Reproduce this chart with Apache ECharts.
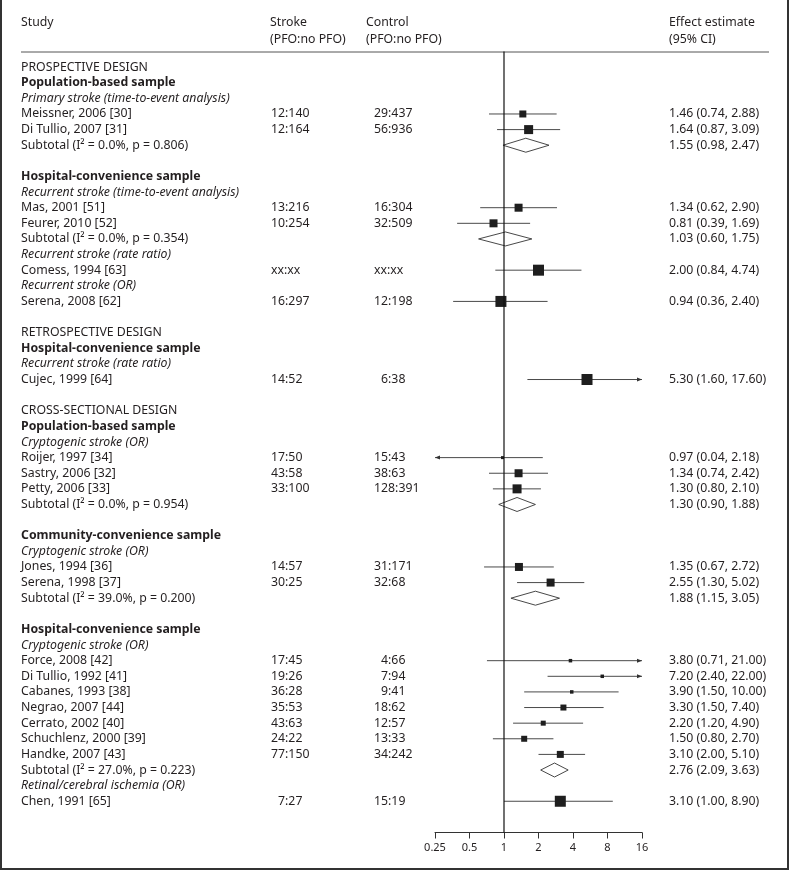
<!DOCTYPE html>
<html>
<head>
<meta charset="utf-8">
<script src="https://cdn.jsdelivr.net/npm/echarts@6/dist/echarts.min.js"></script>
<style>
html, body { margin: 0; padding: 0; background: #fff; }
#chart { width: 789px; height: 870px; }
</style>
</head>
<body>
<div id="chart"></div>
<script>
// rows of the forest plot, top to bottom
const labels = [
  'PROSPECTIVE DESIGN', 'Population-based sample', 'Primary stroke (time-to-event analysis)',
  'Meissner, 2006 [30]', 'Di Tullio, 2007 [31]', 'Subtotal (I² = 0.0%, p = 0.806)', '',
  'Hospital-convenience sample', 'Recurrent stroke (time-to-event analysis)',
  'Mas, 2001 [51]', 'Feurer, 2010 [52]', 'Subtotal (I² = 0.0%, p = 0.354)',
  'Recurrent stroke (rate ratio)', 'Comess, 1994 [63]', 'Recurrent stroke (OR)', 'Serena, 2008 [62]', '',
  'RETROSPECTIVE DESIGN', 'Hospital-convenience sample', 'Recurrent stroke (rate ratio)', 'Cujec, 1999 [64]', '',
  'CROSS-SECTIONAL DESIGN', 'Population-based sample', 'Cryptogenic stroke (OR)',
  'Roijer, 1997 [34]', 'Sastry, 2006 [32]', 'Petty, 2006 [33]', 'Subtotal (I² = 0.0%, p = 0.954)', '',
  'Community-convenience sample', 'Cryptogenic stroke (OR)',
  'Jones, 1994 [36]', 'Serena, 1998 [37]', 'Subtotal (I² = 39.0%, p = 0.200)', '',
  'Hospital-convenience sample', 'Cryptogenic stroke (OR)',
  'Force, 2008 [42]', 'Di Tullio, 1992 [41]', 'Cabanes, 1993 [38]', 'Negrao, 2007 [44]',
  'Cerrato, 2002 [40]', 'Schuchlenz, 2000 [39]', 'Handke, 2007 [43]', 'Subtotal (I² = 27.0%, p = 0.223)',
  'Retinal/cerebral ischemia (OR)', 'Chen, 1991 [65]'
];
const kinds = [
  'design', 'sample', 'outcome', 'study', 'study', 'subtotal', 'blank',
  'sample', 'outcome', 'study', 'study', 'subtotal',
  'outcome', 'study', 'outcome', 'study', 'blank',
  'design', 'sample', 'outcome', 'study', 'blank',
  'design', 'sample', 'outcome', 'study', 'study', 'study', 'subtotal', 'blank',
  'sample', 'outcome', 'study', 'study', 'subtotal', 'blank',
  'sample', 'outcome', 'study', 'study', 'study', 'study', 'study', 'study', 'study', 'subtotal',
  'outcome', 'study'
];
const strokeCounts = [
  '', '', '', '12:140', '12:164', '', '',
  '', '', '13:216', '10:254', '',
  '', 'xx:xx', '', '16:297', '',
  '', '', '', '14:52', '',
  '', '', '', '17:50', '43:58', '33:100', '', '',
  '', '', '14:57', '30:25', '', '',
  '', '', '17:45', '19:26', '36:28', '35:53', '43:63', '24:22', '77:150', '',
  '', '7:27'
];
const controlCounts = [
  '', '', '', '29:437', '56:936', '', '',
  '', '', '16:304', '32:509', '',
  '', 'xx:xx', '', '12:198', '',
  '', '', '', '6:38', '',
  '', '', '', '15:43', '38:63', '128:391', '', '',
  '', '', '31:171', '32:68', '', '',
  '', '', '4:66', '7:94', '9:41', '18:62', '12:57', '13:33', '34:242', '',
  '', '15:19'
];
const estimates = [
  null, null, null, 1.46, 1.64, 1.55, null,
  null, null, 1.34, 0.81, 1.03,
  null, 2.00, null, 0.94, null,
  null, null, null, 5.30, null,
  null, null, null, 0.97, 1.34, 1.30, 1.30, null,
  null, null, 1.35, 2.55, 1.88, null,
  null, null, 3.80, 7.20, 3.90, 3.30, 2.20, 1.50, 3.10, 2.76,
  null, 3.10
];
const lowers = [
  null, null, null, 0.74, 0.87, 0.98, null,
  null, null, 0.62, 0.39, 0.60,
  null, 0.84, null, 0.36, null,
  null, null, null, 1.60, null,
  null, null, null, 0.04, 0.74, 0.80, 0.90, null,
  null, null, 0.67, 1.30, 1.15, null,
  null, null, 0.71, 2.40, 1.50, 1.50, 1.20, 0.80, 2.00, 2.09,
  null, 1.00
];
const uppers = [
  null, null, null, 2.88, 3.09, 2.47, null,
  null, null, 2.90, 1.69, 1.75,
  null, 4.74, null, 2.40, null,
  null, null, null, 17.60, null,
  null, null, null, 2.18, 2.42, 2.10, 1.88, null,
  null, null, 2.72, 5.02, 3.05, null,
  null, null, 21.00, 22.00, 10.00, 7.40, 4.90, 2.70, 5.10, 3.63,
  null, 8.90
];
// relative study weight (drives square size)
const weights = [
  null, null, null, 7, 9, null, null,
  null, null, 8, 8, null,
  null, 11, null, 11, null,
  null, null, null, 11, null,
  null, null, null, 3, 8, 9, null, null,
  null, null, 8, 8, null, null,
  null, null, 3.5, 3.5, 3.5, 6, 5, 6, 7, null,
  null, 11
];
const tickValues = [0.25, 0.5, 1, 2, 4, 8, 16];
const tickLabels = ['0.25', '0.5', '1', '2', '4', '8', '16'];

const FONT = '"Noto Sans", "Liberation Sans", sans-serif';
const INK = '#231f20';
const X_MIN = 0.25, X_MAX = 16;

const studyData = [];
const subtotalData = [];
kinds.forEach((k, i) => {
  if (k === 'study') studyData.push([estimates[i], i, lowers[i], uppers[i], weights[i]]);
  if (k === 'subtotal') subtotalData.push([estimates[i], i, lowers[i], uppers[i]]);
});

const fmt = v => v.toFixed(2);
const pad = s => (/^\d:/.test(s) ? '\u2007' + s : s);

function txt(x, y, text, extra) {
  return {
    type: 'text',
    style: Object.assign({
      text: text, x: x, y: y, fill: INK, fontFamily: FONT, fontSize: 12.3,
      align: 'left', verticalAlign: 'middle'
    }, extra || {})
  };
}

function renderRowText(params, api) {
  const i = api.value(1);
  const y = api.coord([1, i])[1];
  const k = kinds[i];
  const kids = [];
  let extra = {};
  if (k === 'sample') extra = { fontWeight: 'bold' };
  if (k === 'outcome') extra = { fontStyle: 'italic' };
  if (labels[i]) kids.push(txt(21, y, labels[i], extra));
  if (strokeCounts[i]) kids.push(txt(271, y, pad(strokeCounts[i])));
  if (controlCounts[i]) kids.push(txt(374, y, pad(controlCounts[i])));
  if (estimates[i] != null) {
    kids.push(txt(669, y, fmt(estimates[i]) + ' (' + fmt(lowers[i]) + ', ' + fmt(uppers[i]) + ')'));
  }
  return { type: 'group', children: kids };
}

function renderStudy(params, api) {
  const est = api.value(0), row = api.value(1), lo = api.value(2), hi = api.value(3), w = api.value(4);
  const p0 = api.coord([Math.max(lo, X_MIN), row]);
  const p1 = api.coord([Math.min(hi, X_MAX), row]);
  const pc = api.coord([est, row]);
  const kids = [
    { type: 'line', shape: { x1: p0[0], y1: p0[1], x2: p1[0], y2: p1[1] }, style: { stroke: '#4a4a4a', lineWidth: 1 } },
    { type: 'rect', shape: { x: pc[0] - w / 2, y: pc[1] - w / 2, width: w, height: w }, style: { fill: '#1e1e1e' } }
  ];
  if (hi > X_MAX) {
    kids.push({ type: 'polygon', shape: { points: [[p1[0], p1[1]], [p1[0] - 5, p1[1] - 2], [p1[0] - 5, p1[1] + 2]] }, style: { fill: '#333' } });
  }
  if (lo < X_MIN) {
    kids.push({ type: 'polygon', shape: { points: [[p0[0], p0[1]], [p0[0] + 5, p0[1] - 2], [p0[0] + 5, p0[1] + 2]] }, style: { fill: '#333' } });
  }
  return { type: 'group', children: kids };
}

function renderDiamond(params, api) {
  const est = api.value(0), row = api.value(1), lo = api.value(2), hi = api.value(3);
  const a = api.coord([lo, row]), c = api.coord([est, row]), b = api.coord([hi, row]);
  const h = 7;
  return {
    type: 'polygon',
    shape: { points: [[a[0], a[1]], [c[0], c[1] - h], [b[0], b[1]], [c[0], c[1] + h]] },
    style: { fill: '#fff', stroke: '#333', lineWidth: 0.9 }
  };
}

const headStyle = { fill: INK, fontFamily: FONT, fontSize: 12.3, verticalAlign: 'middle' };
const head = (text, x, y) => ({ type: 'text', silent: true, style: Object.assign({ text: text, x: x, y: y }, headStyle) });

const chart = echarts.init(document.getElementById('chart'));
chart.setOption({
  animation: false,
  backgroundColor: '#fff',
  grid: { left: 435, width: 207, top: 51.5, height: 781 },
  xAxis: {
    type: 'log', logBase: 2, min: X_MIN, max: X_MAX, splitNumber: 6, position: 'bottom',
    axisLine: { show: true, onZero: false, lineStyle: { color: '#333', width: 1 } },
    axisTick: { show: true, length: 6, lineStyle: { color: '#333' } },
    splitLine: { show: false },
    axisLabel: {
      fontFamily: FONT, fontSize: 11, color: INK, margin: 10,
      showMinLabel: true, showMaxLabel: true,
      formatter: v => {
        const idx = tickValues.findIndex(t => Math.abs(t - v) < 1e-6);
        return idx >= 0 ? tickLabels[idx] : '';
      }
    }
  },
  yAxis: { type: 'value', inverse: true, min: -1, max: 49, show: false },
  graphic: [
    { type: 'polyline', silent: true, shape: { points: [[1, 0], [1, 869], [788, 869], [788, 0]] }, style: { stroke: '#333', lineWidth: 2, fill: null } },
    { type: 'line', silent: true, shape: { x1: 21, y1: 52, x2: 769, y2: 52 }, style: { stroke: '#555', lineWidth: 1 } },
    head('Study', 21, 22),
    head('Stroke', 270, 22),
    head('(PFO:no PFO)', 270, 39),
    head('Control', 366, 22),
    head('(PFO:no PFO)', 366, 39),
    head('Effect estimate', 669, 22),
    head('(95% CI)', 669, 39)
  ],
  series: [
    {
      type: 'line', data: [[1, -1], [1, 49]], symbol: 'none', silent: true,
      lineStyle: { color: '#111', width: 1.2 }
    },
    { type: 'custom', renderItem: renderStudy, data: studyData, silent: true, clip: false },
    { type: 'custom', renderItem: renderDiamond, data: subtotalData, silent: true, clip: false },
    { type: 'custom', renderItem: renderRowText, data: labels.map((_, i) => [1, i]), silent: true, clip: false }
  ]
});
</script>
</body>
</html>
